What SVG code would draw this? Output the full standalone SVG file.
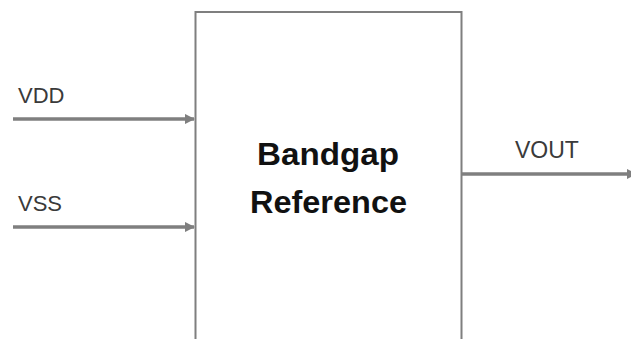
<svg xmlns="http://www.w3.org/2000/svg" width="631" height="339" viewBox="0 0 631 339">
<style>
.lbl{font-family:"Liberation Sans",Arial,sans-serif;font-size:22px;fill:#3a3a3a}
.title{font-family:"Liberation Sans",Arial,sans-serif;font-size:31px;font-weight:bold;fill:#111}
.wire{stroke:#7f7f7f;stroke-width:3.5;fill:none}
</style>
<defs>
<marker id="ah" viewBox="0 0 10 10" refX="9" refY="5" markerWidth="3" markerHeight="3" orient="auto" markerUnits="strokeWidth">
<path d="M0,0 L10,5 L0,10 z" fill="#7f7f7f"/>
</marker>
</defs>
<rect width="631" height="339" fill="#fff"/>
<g id="bandgap">
<path d="M195.5,339 V12 H461.5 V339" fill="none" stroke="#7f7f7f" stroke-width="2"/>
<text class="title" x="257" y="165" textLength="142" lengthAdjust="spacingAndGlyphs">Bandgap</text>
<text class="title" x="250" y="213" textLength="157" lengthAdjust="spacingAndGlyphs">Reference</text>
</g>
<g id="connectors">
<line class="wire" x1="13" y1="119" x2="194" y2="119" marker-end="url(#ah)"/>
<line class="wire" x1="13" y1="227" x2="194" y2="227" marker-end="url(#ah)"/>
<line class="wire" x1="461" y1="174" x2="636" y2="174" marker-end="url(#ah)"/>
</g>
<g id="labels">
<text class="lbl" x="18" y="103">VDD</text>
<text class="lbl" x="18" y="211">VSS</text>
<text class="lbl" x="515" y="158" style="font-size:23px">VOUT</text>
</g>
</svg>
